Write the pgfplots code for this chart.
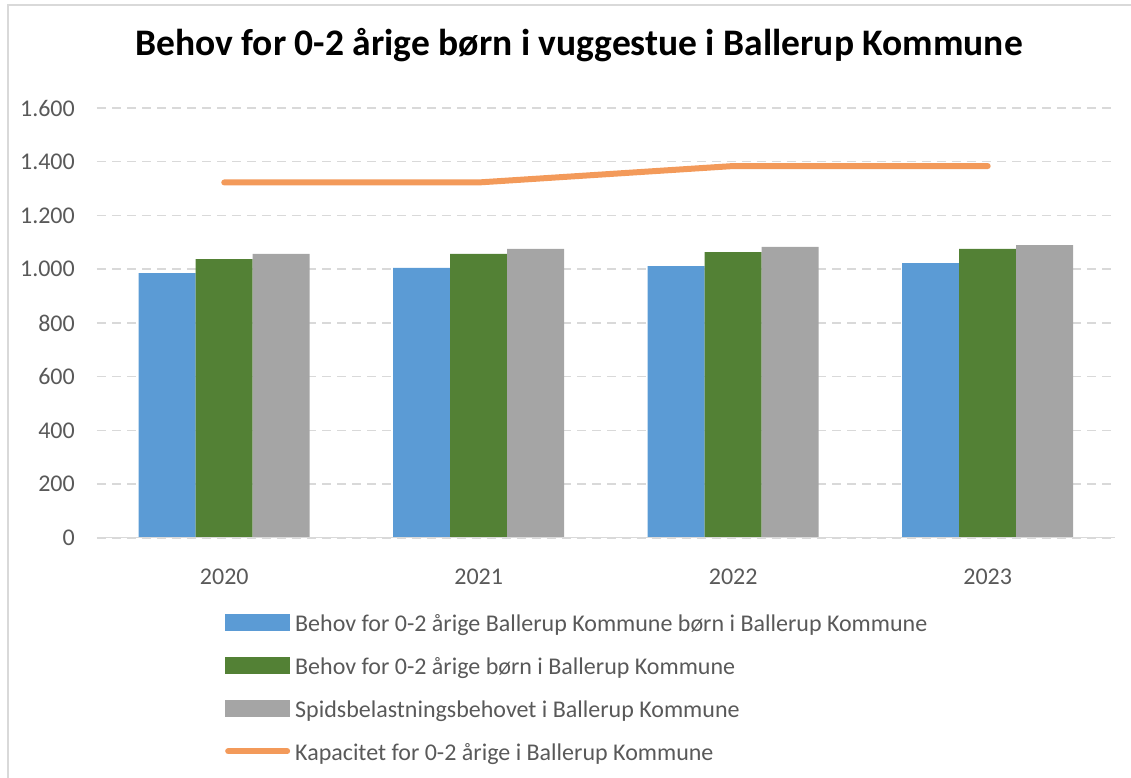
\documentclass[border=0pt]{standalone}
\usepackage{pgfplots}
\pgfplotsset{compat=1.18}
\usepackage{fontspec}
\setmainfont{Carlito}
\definecolor{cblue}{HTML}{5B9BD5}
\definecolor{cgreen}{HTML}{538135}
\definecolor{cgray}{HTML}{A5A5A5}
\definecolor{corange}{HTML}{F39A5A}
\definecolor{gridc}{HTML}{D9D9D9}
\definecolor{txt}{HTML}{595959}
\begin{document}
\begin{tikzpicture}[x=1pt,y=1pt]
\path[use as bounding box] (0,0) rectangle (1131,778);
\draw[gridc, line width=2pt] (8,-2) -- (8,773) -- (1133,773);
\node[font=\fontsize{37.5}{42}\selectfont\bfseries] at (579,733) {Behov for 0-2 årige børn i vuggestue i Ballerup Kommune};
\begin{axis}[
  at={(97pt,240pt)}, anchor=south west,
  scale only axis, width=1018pt, height=430pt,
  xmin=-0.5, xmax=3.5, ymin=0, ymax=1600,
  ybar=0pt, bar width=57pt,
  xtick={0,1,2,3}, xticklabels={2020,2021,2022,2023},
  ytick={0,200,...,1600},
  scaled y ticks=false,
  /pgf/number format/1000 sep={.},
  /pgf/number format/assume math mode=true,
  axis line style={draw=none},
  major tick length=0pt, tick style={draw=none},
  ymajorgrids,
  major grid style={gridc, line width=1.5pt, dash pattern=on 9pt off 6pt},
  yticklabel style={font=\fontsize{24}{28}\selectfont, text=txt, inner sep=0pt, anchor=east, xshift=-22pt},
  xticklabel style={font=\fontsize{24}{28}\selectfont, text=txt, inner sep=0pt, anchor=north, yshift=-31pt},
  legend cell align=left,
  legend style={at={(0.1257,-0.171)}, anchor=north west, draw=none, fill=none,
    font=\fontsize{24}{28}\selectfont, text=txt, inner sep=0pt, row sep=18pt, column sep=5pt,
    nodes={inner sep=0pt, text height=20pt, text depth=5pt}},
]
\addplot[fill=cblue, draw=none, legend image code/.code={\fill[cblue] (0pt,-6.5pt) rectangle (65pt,10.5pt);}]
  coordinates {(0,986) (1,1005) (2,1012) (3,1023)};
\addlegendentry{Behov for 0-2 årige Ballerup Kommune børn i Ballerup Kommune}
\addplot[fill=cgreen, draw=none, legend image code/.code={\fill[cgreen] (0pt,-6.5pt) rectangle (65pt,10.5pt);}]
  coordinates {(0,1038) (1,1057) (2,1064) (3,1076)};
\addlegendentry{Behov for 0-2 årige børn i Ballerup Kommune}
\addplot[fill=cgray, draw=none, legend image code/.code={\fill[cgray] (0pt,-6.5pt) rectangle (65pt,10.5pt);}]
  coordinates {(0,1057) (1,1076) (2,1083) (3,1090)};
\addlegendentry{Spidsbelastningsbehovet i Ballerup Kommune}
\addplot[sharp plot, corange, line width=6pt, line cap=round, line join=round, mark=none,
  legend image code/.code={\draw[corange, line width=6pt, line cap=round] (3pt,2pt) -- (62pt,2pt);}]
  coordinates {(0,1323) (1,1323) (2,1384) (3,1384)};
\addlegendentry{Kapacitet for 0-2 årige i Ballerup Kommune}
\draw[gridc, line width=2pt] (rel axis cs:0,0) -- (rel axis cs:1,0);
\end{axis}
\end{tikzpicture}
\end{document}
